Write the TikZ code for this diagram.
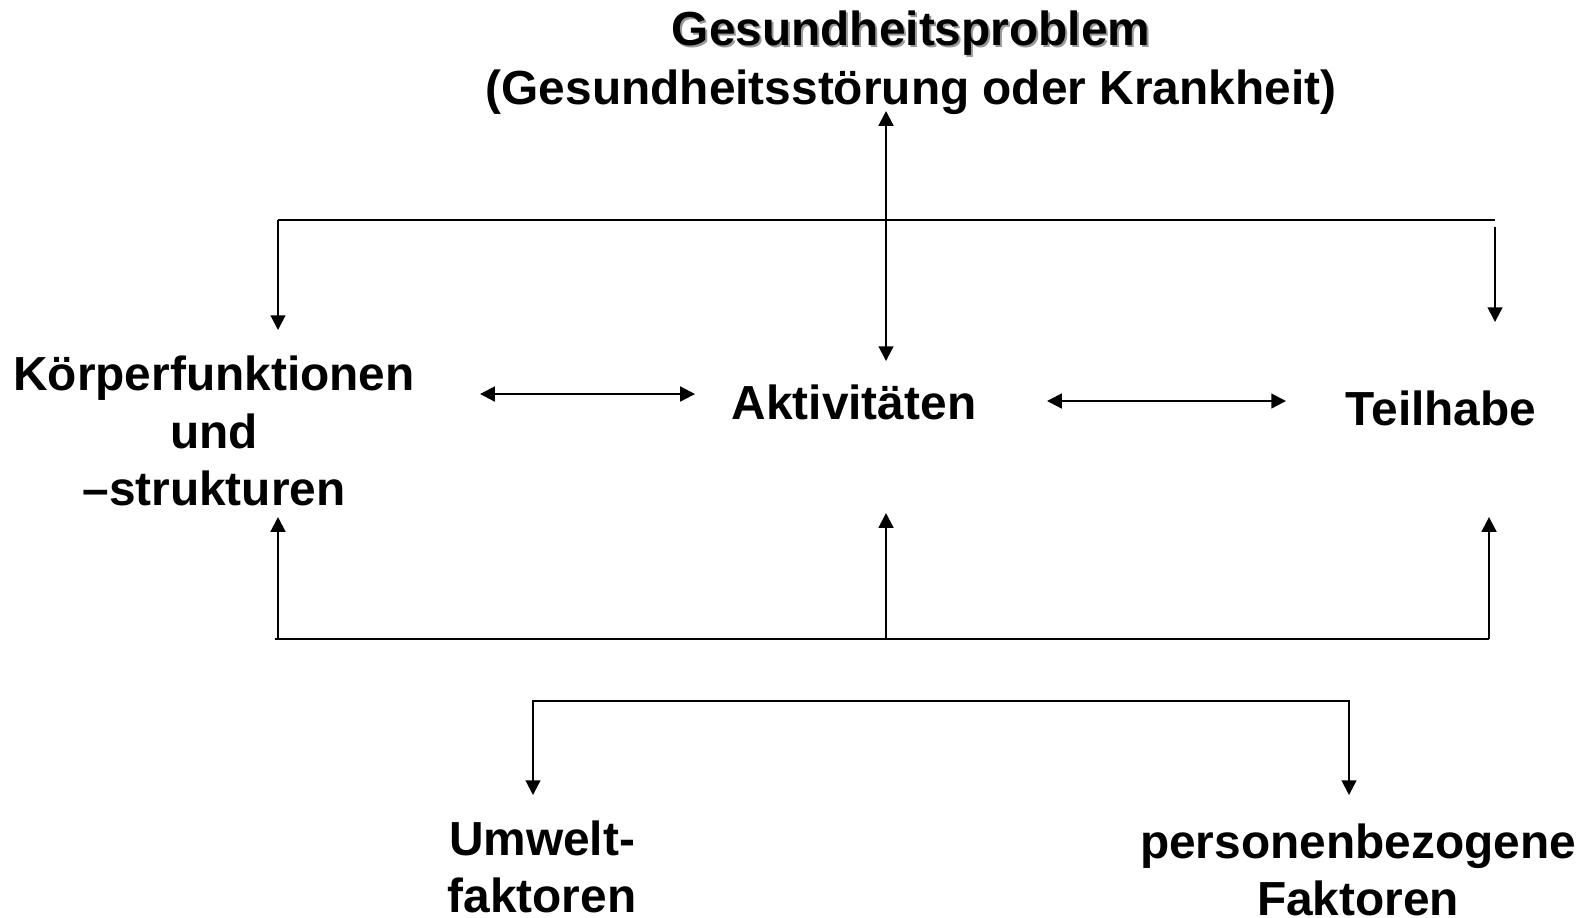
\documentclass[tikz,border=0pt]{standalone}
\usepackage{fontspec}
\setmainfont{Liberation Sans}
\usetikzlibrary{arrows.meta}

\begin{document}
\begin{tikzpicture}[x=0.01cm,y=-0.01cm,
  lbl/.style={font=\bfseries\fontsize{13.6}{16.3}\selectfont,align=center,inner sep=0pt},
  linie/.style={line width=0.6pt},
  pfeil/.style={line width=0.6pt,-{Triangle[length=4.2pt,width=4.2pt]}},
  doppel/.style={line width=0.6pt,{Triangle[length=4.2pt,width=4.2pt]}-{Triangle[length=4.2pt,width=4.2pt]}}]
\useasboundingbox (0,0) rectangle (1583,917);

% Texte
\node[lbl,anchor=base,text=black!40] (schatten) at (913,47) {Gesundheitsproblem};
\node[lbl,anchor=base] (problem) at (911,45) {Gesundheitsproblem};
\node[lbl,anchor=base] (stoerung) at (911,104) {(Gesundheitsstörung oder Krankheit)};
\node[lbl] (koerper) at (214,431) {Körperfunktionen\\und\\–strukturen};
\node[lbl] (aktiv) at (854,402) {Aktivitäten};
\node[lbl] (teilhabe) at (1441,408) {Teilhabe};
\node[lbl] (umwelt) at (542,867) {Umwelt-\\faktoren};
\node[lbl] (person) at (1358,870) {personenbezogene\\Faktoren};

% Pfeile oben
\coordinate (ol) at (278,220);
\coordinate (or) at (1495,220);
\draw[linie] (ol) -- (or);
\draw[pfeil] (ol) -- (278,330);
\draw[pfeil] (1495,227) -- (1495,322);
\draw[doppel] (886,111) -- (886,361);

% Wechselwirkungen
\draw[doppel] (480,394) -- (695,394);
\draw[doppel] (1047,401) -- (1286,401);

% Pfeile unten
\coordinate (ul) at (275,639);
\coordinate (ur) at (1489,639);
\draw[linie] (ul) -- (ur);
\draw[pfeil] (278,639) -- (278,517);
\draw[pfeil] (886,639) -- (886,513);
\draw[pfeil] (ur) -- (1489,517);

% Kontextfaktoren
\draw[doppel] (533,795) |- (1349,701) -- (1349,795);
\end{tikzpicture}
\end{document}
